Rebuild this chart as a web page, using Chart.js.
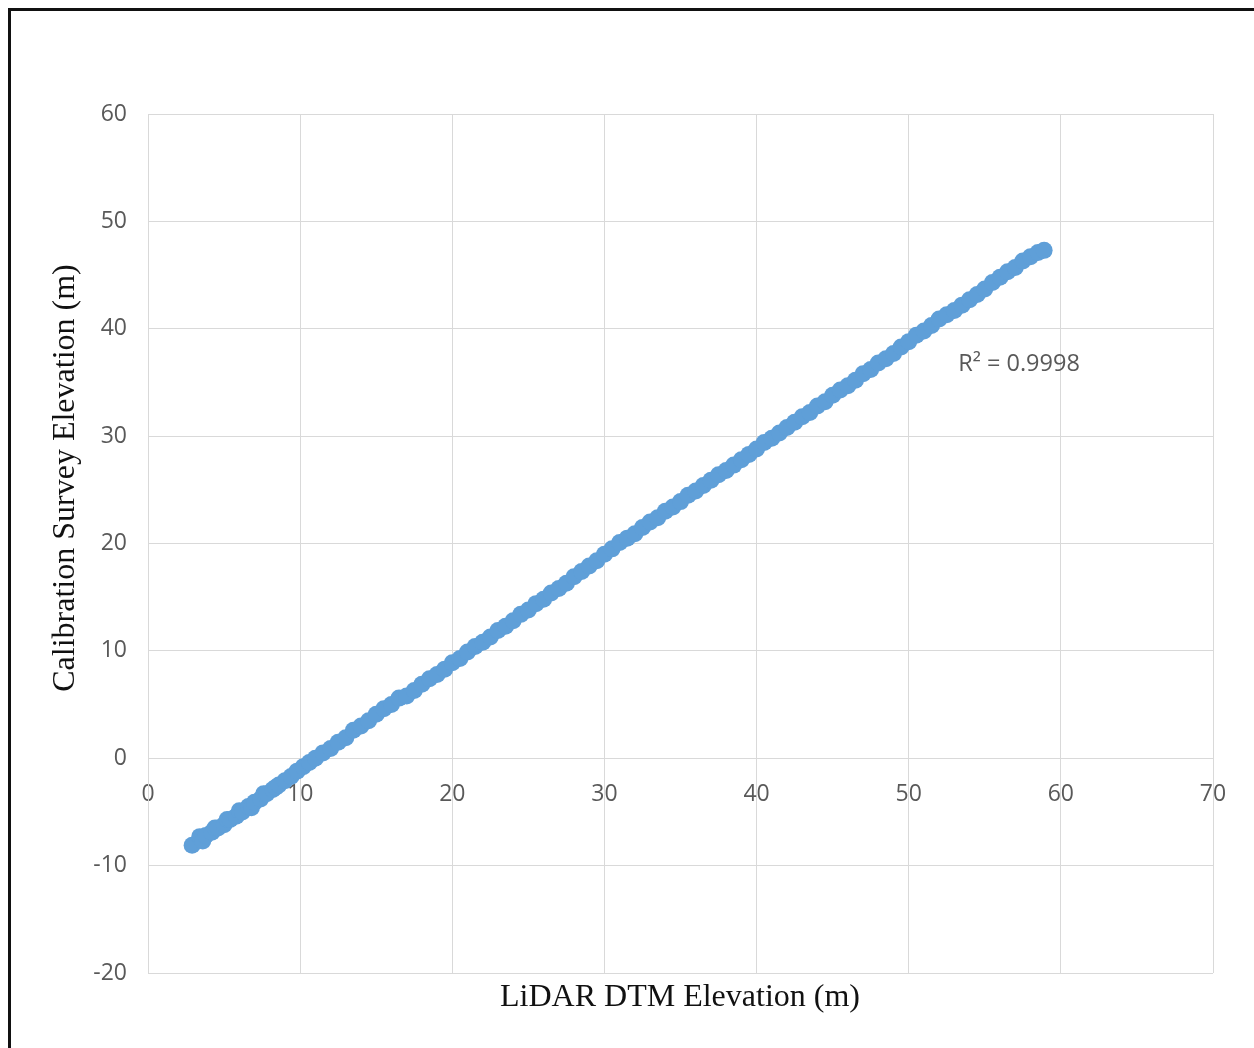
<!DOCTYPE html>
<html>
<head>
<meta charset="utf-8">
<script src="https://cdn.jsdelivr.net/npm/chart.js@4/dist/chart.umd.min.js"></script>
<style>
  html, body { margin: 0; padding: 0; background: #fff; }
  #wrap { position: relative; width: 1254px; height: 1048px; overflow: hidden; background: #fff; }
  #chart { position: absolute; left: 0; top: 0; }
  /* black frame round the figure, runs off the right and bottom edges */
  #frame { position: absolute; left: 8px; top: 8px; width: 1400px; height: 1200px;
           border-left: 3px solid #111; border-top: 3px solid #111; pointer-events: none; }
</style>
</head>
<body>
<div id="wrap">
  <canvas id="chart" width="1254" height="1048"></canvas>
  <div id="frame"></div>
</div>
<script>
// ─── Data ──────────────────────────────────────────────────────────────────
const lidarDtm = [
  2.9, 3.4, 3.6, 3.8, 4.2, 4.4, 4.6, 5.0, 5.2, 5.4, 5.8, 6.0, 6.2, 6.6, 6.8, 7.0,
  7.4, 7.6, 7.8, 8.2, 8.4, 8.6, 9.0, 9.4, 9.8, 10.2, 10.6, 11.0, 11.5, 12.0, 12.5,
  13.0, 13.5, 14.0, 14.5, 15.0, 15.5, 16.0, 16.5, 17.0, 17.5, 18.0, 18.5, 19.0,
  19.5, 20.0, 20.5, 21.0, 21.5, 22.0, 22.5, 23.0, 23.5, 24.0, 24.5, 25.0, 25.5,
  26.0, 26.5, 27.0, 27.5, 28.0, 28.5, 29.0, 29.5, 30.0, 30.5, 31.0, 31.5, 32.0,
  32.5, 33.0, 33.5, 34.0, 34.5, 35.0, 35.5, 36.0, 36.5, 37.0, 37.5, 38.0, 38.5,
  39.0, 39.5, 40.0, 40.5, 41.0, 41.5, 42.0, 42.5, 43.0, 43.5, 44.0, 44.5, 45.0,
  45.5, 46.0, 46.5, 47.0, 47.5, 48.0, 48.5, 49.0, 49.5, 50.0, 50.5, 51.0, 51.5,
  52.0, 52.5, 53.0, 53.5, 54.0, 54.5, 55.0, 55.5, 56.0, 56.5, 57.0, 57.5, 58.0,
  58.5, 58.9
];
const surveyElev = [
  -8.1, -7.3, -7.7, -7.2, -6.9, -6.5, -6.5, -6.2, -5.7, -5.7, -5.4, -4.9, -5.0, -4.5, -4.6, -4.1,
  -3.8, -3.3, -3.3, -2.9, -2.7, -2.5, -2.1, -1.7, -1.2, -0.8, -0.4, 0.0, 0.5, 0.9, 1.5,
  1.9, 2.6, 3.0, 3.5, 4.1, 4.6, 5.0, 5.6, 5.8, 6.3, 6.9, 7.4, 7.8,
  8.3, 8.9, 9.3, 9.9, 10.4, 10.8, 11.3, 11.9, 12.3, 12.8, 13.4, 13.8, 14.4,
  14.8, 15.4, 15.8, 16.3, 16.9, 17.4, 17.9, 18.4, 19.0, 19.5, 20.1, 20.5, 20.9,
  21.5, 22.0, 22.4, 23.0, 23.4, 23.9, 24.5, 24.9, 25.4, 25.9, 26.4, 26.8, 27.3,
  27.8, 28.3, 28.8, 29.4, 29.8, 30.3, 30.8, 31.3, 31.8, 32.2, 32.8, 33.2, 33.8,
  34.3, 34.7, 35.2, 35.8, 36.2, 36.8, 37.2, 37.7, 38.3, 38.8, 39.4, 39.8, 40.3,
  40.9, 41.3, 41.7, 42.2, 42.7, 43.2, 43.7, 44.3, 44.8, 45.3, 45.7, 46.3, 46.7,
  47.1, 47.3
];
const xTickLabels = ['0', '10', '20', '30', '40', '50', '60', '70'];
const yTickLabels = ['-20', '-10', '0', '10', '20', '30', '40', '50', '60'];
const rSquared = 'R² = 0.9998';
const xTitle = 'LiDAR DTM Elevation (m)';
const yTitle = 'Calibration Survey Elevation (m)';

const points = lidarDtm.map((x, i) => ({ x, y: surveyElev[i] }));

// Axis titles and the R² note, drawn in the same style Excel uses
const textPlugin = {
  id: 'excelText',
  afterDraw(chart) {
    const { ctx, scales: { x, y } } = chart;
    ctx.save();
    ctx.fillStyle = '#595959';
    ctx.font = '23.5px "Open Sans"';
    ctx.textAlign = 'left';
    ctx.textBaseline = 'middle';
    ctx.fillText(rSquared, x.getPixelForValue(53.25), y.getPixelForValue(36.7));

    ctx.fillStyle = '#111';
    ctx.font = '32px "Liberation Serif"';
    ctx.textAlign = 'center';
    ctx.fillText(xTitle, 680, 998);
    ctx.translate(66, 478);
    ctx.rotate(-Math.PI / 2);
    ctx.fillText(yTitle, 0, 0);
    ctx.restore();
  }
};

const tickFont = { family: 'Open Sans', size: 23 };

new Chart(document.getElementById('chart'), {
  type: 'scatter',
  data: {
    datasets: [{
      data: points,
      backgroundColor: '#5f9fd8',
      borderWidth: 0,
      pointRadius: 8.5,
      pointHoverRadius: 8.5,
    }],
  },
  options: {
    responsive: false,
    animation: false,
    devicePixelRatio: 1,
    layout: { padding: { left: 0, top: 114, right: 41, bottom: 75 } },
    plugins: { legend: { display: false }, tooltip: { enabled: false } },
    scales: {
      x: {
        type: 'linear',
        min: 0, max: 70,
        position: { y: 0 },
        ticks: {
          stepSize: 10, color: '#595959', font: tickFont, padding: 22,
          callback: (v) => xTickLabels[Math.round(v / 10)],
        },
        grid: { color: '#d9d9d9', lineWidth: 1, drawTicks: false },
        border: { display: false },
      },
      y: {
        type: 'linear',
        min: -20, max: 60,
        ticks: {
          stepSize: 10, color: '#595959', font: tickFont, padding: 21,
          callback: (v) => yTickLabels[Math.round((v + 20) / 10)],
        },
        grid: { color: '#d9d9d9', lineWidth: 1, drawTicks: false },
        border: { color: '#d9d9d9' },
        afterFit(scale) { scale.width = 148; },
      },
    },
  },
  plugins: [textPlugin],
});
</script>
</body>
</html>
